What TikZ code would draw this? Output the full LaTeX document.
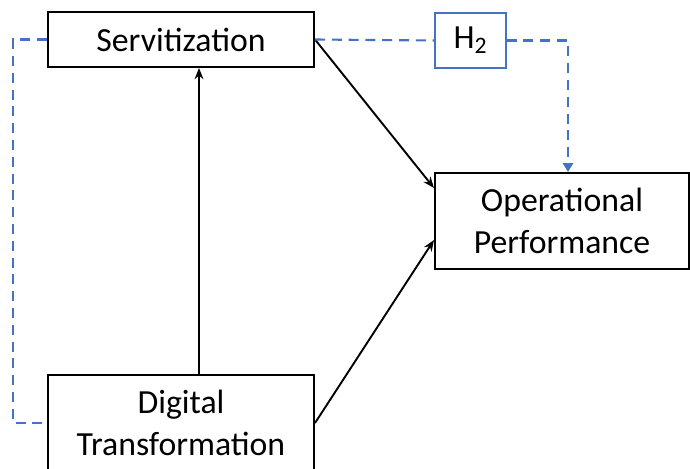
\documentclass[tikz,border=0pt]{standalone}
\usepackage{fontspec}
\setmainfont{Carlito}
\usepackage{tikz}
\usetikzlibrary{arrows.meta, positioning}
\definecolor{hypblue}{RGB}{68,114,196}
\def\px{0.025cm}
\def\boxW{6.65cm}
\def\lowH{2.4cm}

\begin{document}
\begin{tikzpicture}[
    x=\px, y=-\px,
    >={Stealth[length=2.8mm,width=2.2mm]},
    box/.style={draw, line width=1.4pt, align=center, inner sep=0pt,
        font=\fontsize{24}{29.5}\selectfont},
    hyp/.style={draw=hypblue, line width=0.8pt, inner sep=0pt,
        font=\fontsize{24}{29.5}\selectfont},
    dashline/.style={hypblue, line width=1.5pt, dash pattern=on 0.25cm off 0.17cm},
    path/.style={line width=1.35pt}
]
\useasboundingbox (0,0) rectangle (690,468);

\node[box, minimum width=\boxW, minimum height=1.375cm] (serv) at (181,39.5) {Servitization};
\node[hyp, minimum width=1.775cm, minimum height=1.375cm] (h2) at (470.5,40.5) {H\textsubscript{2}};
\node[box, minimum width=6.35cm, minimum height=\lowH] (op) at (562,221) {Operational\\Performance};
\node[box, minimum width=\boxW, minimum height=\lowH] (dt) at (181,423) {Digital\\Transformation};

% direct paths
\draw[path, ->] ([xshift=0.45cm]dt.north) -- ([xshift=0.45cm]serv.south);
\draw[path, ->] (serv.east) -- ([yshift=0.825cm]op.west);
\draw[path, ->] (dt.east) -- ([yshift=-0.475cm]op.west);

% moderation (H2)
\draw[dashline] (serv.west) -- ++(-34,0) |- (dt.west);
\draw[dashline] (serv.east) -- (h2.west);
\draw[dashline, -{Triangle[length=2.2mm,width=2.5mm]}] (h2.east) -| ([xshift=0.15cm]op.north);
\end{tikzpicture}
\end{document}
